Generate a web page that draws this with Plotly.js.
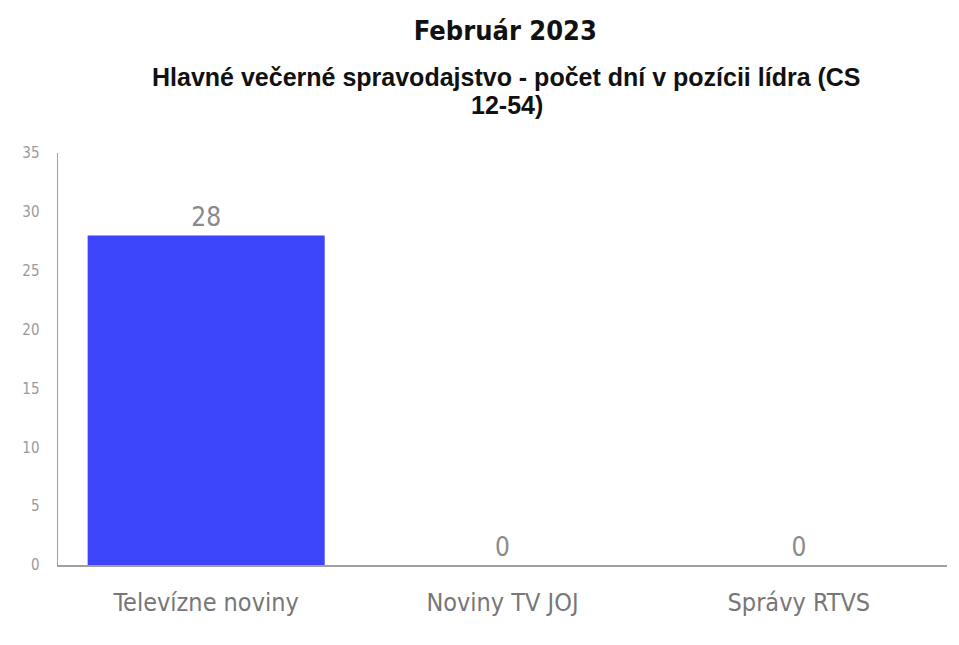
<!DOCTYPE html>
<html>
<head>
<meta charset="utf-8">
<script src="https://cdn.plot.ly/plotly-3.0.1.min.js"></script>
<style>html,body{margin:0;padding:0;background:#fff;}#chart{width:959px;height:645px;}</style>
</head>
<body>
<div id="chart"></div>
<script>
const categories = ["Televízne noviny", "Noviny TV JOJ", "Správy RTVS"];
const values = [28, 0, 0];
const yTicks = [0, 5, 10, 15, 20, 25, 30, 35];
const subtitleLines = ["Hlavné večerné spravodajstvo - počet dní v pozícii lídra (CS", "12-54)"];

const narrow = '"DejaVu Sans Condensed", "Liberation Sans Narrow", sans-serif';

const trace = {
  type: 'bar',
  x: categories,
  y: values,
  marker: {color: '#3d45fb'},
  text: values.map(String),
  textposition: 'outside',
  textfont: {family: narrow, size: 26, color: '#8a8a8a'},
  cliponaxis: false,
  hoverinfo: 'none'
};

const layout = {
  width: 959, height: 645,
  margin: {l: 58, r: 12, t: 153, b: 80},
  paper_bgcolor: '#fff', plot_bgcolor: '#fff',
  showlegend: false,
  bargap: 0.2,
  title: {
    text: '<b>Február 2023</b>',
    x: 0.527, xanchor: 'center',
    y: 0.953, yanchor: 'middle',
    font: {family: narrow, size: 27, color: '#111'}
  },
  annotations: [
    {
      xref: 'paper', yref: 'paper',
      x: 0.505, y: 1, xanchor: 'center', yanchor: 'middle',
      yshift: 76,
      text: '<b>' + subtitleLines[0] + '</b>',
      showarrow: false,
      font: {family: '"Liberation Sans", Arial, sans-serif', size: 25, color: '#111'}
    },
    {
      xref: 'paper', yref: 'paper',
      x: 0.505, y: 1, xanchor: 'center', yanchor: 'middle',
      yshift: 48,
      text: '<b>' + subtitleLines[1] + '</b>',
      showarrow: false,
      font: {family: '"Liberation Sans", Arial, sans-serif', size: 25, color: '#111'}
    }
  ],
  xaxis: {
    type: 'category',
    showline: true, linecolor: '#a0a0a0', linewidth: 1.5,
    ticks: '', showgrid: false, zeroline: false,
    tickfont: {family: narrow, size: 25, color: '#777'},
    ticklabelstandoff: 14
  },
  yaxis: {
    range: [0, 35],
    tickvals: yTicks,
    showline: true, linecolor: '#a0a0a0', linewidth: 1.5,
    ticks: '', showgrid: false, zeroline: false,
    tickfont: {family: narrow, size: 15, color: '#9a9a9a'},
    ticklabelstandoff: 14
  }
};

Plotly.newPlot('chart', [trace], layout, {displayModeBar: false, staticPlot: true});
</script>
</body>
</html>
